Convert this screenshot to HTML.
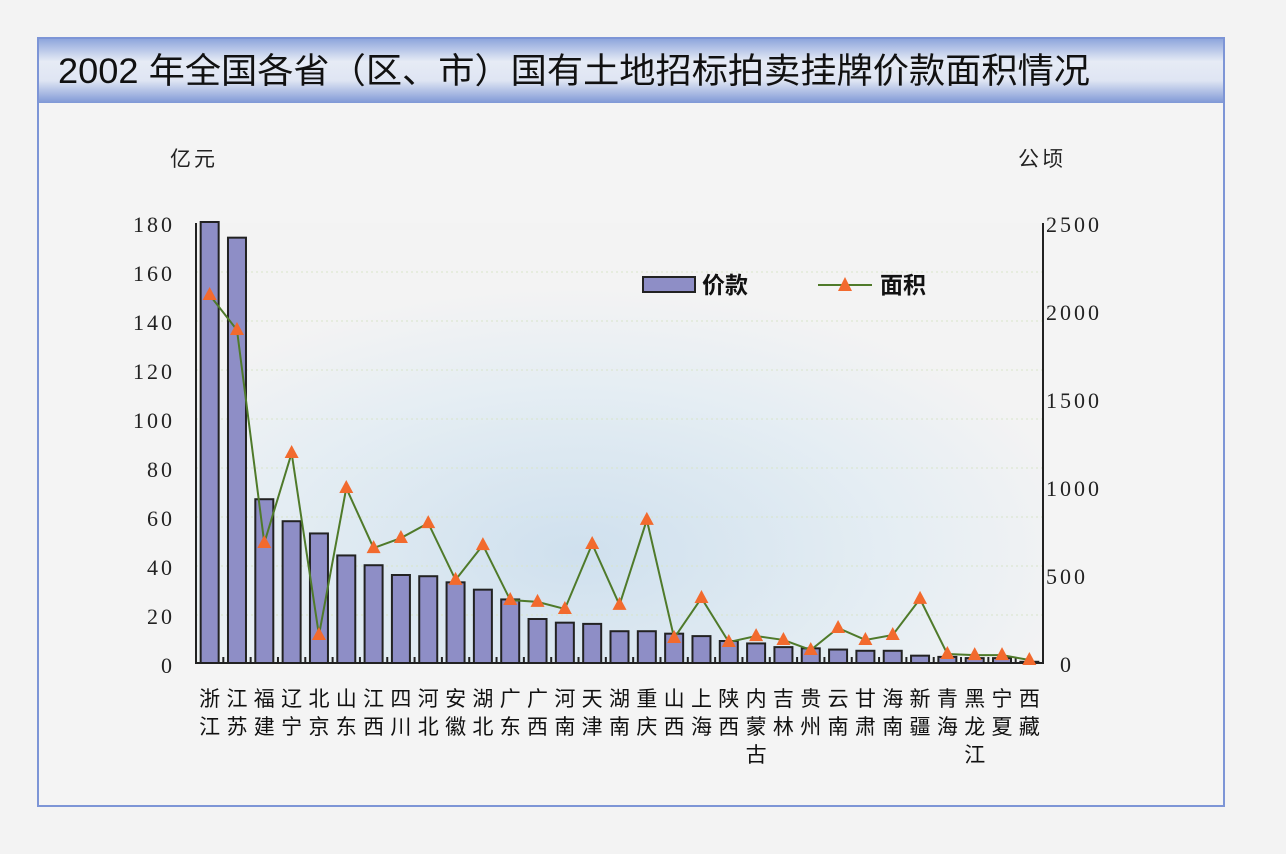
<!DOCTYPE html>
<html><head><meta charset="utf-8"><style>
body{margin:0;background:#f3f3f3;width:1286px;height:849px;overflow:hidden}
</style></head><body>
<svg width="1286" height="849" xmlns="http://www.w3.org/2000/svg" font-family="Liberation Serif, Noto Serif CJK SC, serif">
<defs>
<linearGradient id="tb" x1="0" y1="0" x2="0" y2="1">
<stop offset="0" stop-color="#8ea6dc"/><stop offset="0.35" stop-color="#e6ebf5"/><stop offset="0.65" stop-color="#dfe5f3"/><stop offset="1" stop-color="#7f98d6"/></linearGradient>
<radialGradient id="pb" cx="0.45" cy="0.75" r="0.6">
<stop offset="0" stop-color="#cfe0ee"/><stop offset="0.6" stop-color="#e4edf3"/><stop offset="1" stop-color="#f3f3f3"/></radialGradient>
</defs>
<rect x="38" y="38" width="1186" height="768" fill="#f4f4f4" stroke="#7d95d6" stroke-width="2"/>
<rect x="39" y="39" width="1184" height="64" fill="url(#tb)"/>
<text x="58" y="83" font-family="Liberation Sans, Noto Sans CJK SC, sans-serif" font-size="35" fill="#111" textLength="1032" lengthAdjust="spacingAndGlyphs">2002 年全国各省（区、市）国有土地招标拍卖挂牌价款面积情况</text>
<rect x="196" y="223" width="847" height="440" fill="url(#pb)"/>
<g stroke="#d8e4c8" stroke-dasharray="2,3">
<line x1="196" y1="272" x2="1043" y2="272"/><line x1="196" y1="321" x2="1043" y2="321"/><line x1="196" y1="370" x2="1043" y2="370"/><line x1="196" y1="419" x2="1043" y2="419"/><line x1="196" y1="468" x2="1043" y2="468"/><line x1="196" y1="517" x2="1043" y2="517"/><line x1="196" y1="566" x2="1043" y2="566"/><line x1="196" y1="615" x2="1043" y2="615"/>
</g>
<text x="170" y="166" font-family="Liberation Sans, Noto Sans CJK SC, sans-serif" font-size="21" letter-spacing="3" fill="#222">亿元</text>
<text x="1018" y="166" font-family="Liberation Sans, Noto Sans CJK SC, sans-serif" font-size="21" letter-spacing="3" fill="#222">公顷</text>
<g font-size="22" fill="#222" text-anchor="end" letter-spacing="3">
<text x="175" y="232">180</text><text x="175" y="281">160</text><text x="175" y="330">140</text><text x="175" y="379">120</text><text x="175" y="428">100</text><text x="175" y="477">80</text><text x="175" y="526">60</text><text x="175" y="575">40</text><text x="175" y="624">20</text><text x="175" y="673">0</text>
</g>
<g font-size="22" fill="#222" letter-spacing="3">
<text x="1046" y="232">2500</text><text x="1046" y="320">2000</text><text x="1046" y="408">1500</text><text x="1046" y="496">1000</text><text x="1046" y="584">500</text><text x="1060" y="672">0</text>
</g>
<g id="bars" fill="#8e8ec6" stroke="#222" stroke-width="2"></g>
<line x1="196" y1="223" x2="196" y2="664" stroke="#222" stroke-width="2"/>
<line x1="1043" y1="223" x2="1043" y2="664" stroke="#222" stroke-width="2"/>
<line x1="195" y1="663" x2="1044" y2="663" stroke="#222" stroke-width="2"/>
<g id="ticks" stroke="#222" stroke-width="2"></g>
<polyline id="ln" fill="none" stroke="#4f7a2a" stroke-width="2"/>
<g id="tri" fill="#f26a2e"></g>
<g id="lab" font-family="Liberation Sans, Noto Sans CJK SC, sans-serif" font-size="21" fill="#111" text-anchor="middle"></g>
<rect x="643" y="277" width="52" height="15" fill="#8e8ec6" stroke="#222" stroke-width="2"/>
<text x="702" y="293" font-family="Liberation Sans, Noto Sans CJK SC, sans-serif" font-size="23" font-weight="bold" fill="#111">价款</text>
<line x1="818" y1="285" x2="872" y2="285" stroke="#4f7a2a" stroke-width="2"/>
<polygon points="845,277 838,291 852,291" fill="#f26a2e"/>
<text x="880" y="293" font-family="Liberation Sans, Noto Sans CJK SC, sans-serif" font-size="23" font-weight="bold" fill="#111">面积</text>
</svg>
<script>
const names=[["浙","江"],["江","苏"],["福","建"],["辽","宁"],["北","京"],["山","东"],["江","西"],["四","川"],["河","北"],["安","徽"],["湖","北"],["广","东"],["广","西"],["河","南"],["天","津"],["湖","南"],["重","庆"],["山","西"],["上","海"],["陕","西"],["内","蒙","古"],["吉","林"],["贵","州"],["云","南"],["甘","肃"],["海","南"],["新","疆"],["青","海"],["黑","龙","江"],["宁","夏"],["西","藏"]];
const v=[181,174,67,58,53,44,40,36,35.5,33,30,26,18,16.5,16,13,13,12,11,9,8,6.5,6,5.5,5,5,3,2.5,2,2,0.5];
const a=[2091,1892,682,1193,159,994,653,710,795,472,670,358,347,307,676,330,813,142,369,119,153,131,74,199,131,159,364,51,45,45,17];
const ns="http://www.w3.org/2000/svg";
const w=847/31;let pts=[];
const B=document.getElementById('bars'),T=document.getElementById('ticks'),R=document.getElementById('tri'),L=document.getElementById('lab');
function el(t,at,p){const e=document.createElementNS(ns,t);for(const k in at)e.setAttribute(k,at[k]);p.appendChild(e);return e;}
for(let i=0;i<31;i++){const cx=196+w*(i+0.5);
const h=Math.min(v[i]*440/180,441);
el('rect',{x:cx-9,y:663-h,width:18,height:h},B);
el('line',{x1:196+w*(i+1),y1:657,x2:196+w*(i+1),y2:663},T);
const y=663-a[i]*0.176;pts.push(cx+','+y);
el('polygon',{points:`${cx},${y-8} ${cx-7},${y+5} ${cx+7},${y+5}`},R);
names[i].forEach((c,j)=>{const t=el('text',{x:cx,y:706+j*28},L);t.textContent=c;});}
document.getElementById('ln').setAttribute('points',pts.join(' '));
</script>
</body></html>
